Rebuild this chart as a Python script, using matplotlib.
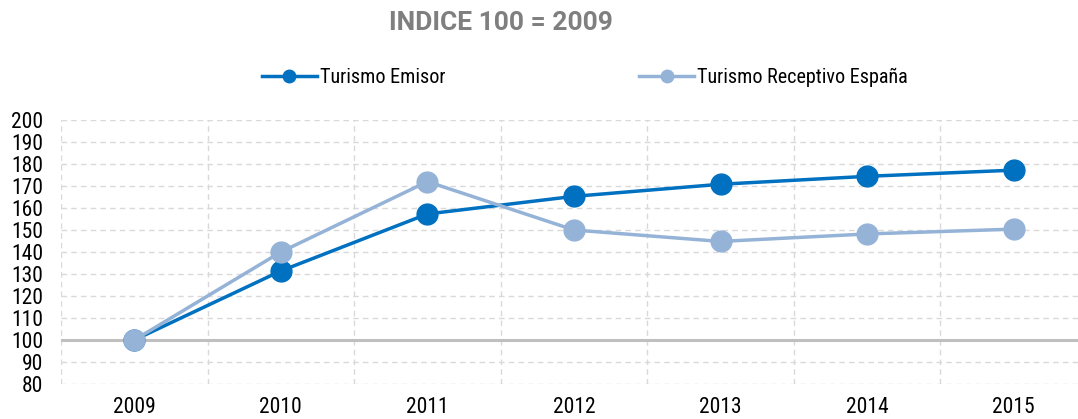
import matplotlib
matplotlib.use("Agg")
import matplotlib.pyplot as plt
from matplotlib import font_manager

years = ["2009", "2010", "2011", "2012", "2013", "2014", "2015"]
emisor = [100, 131.4, 157.3, 165.3, 170.8, 174.4, 177.2]
receptivo = [100, 140.0, 172.0, 150.0, 144.8, 148.2, 150.4]
yticks = list(range(80, 201, 10))

# prefer a narrow sans face when one is available
fonts = font_manager.fontManager.ttflist
names = {f.name for f in fonts}
family = "DejaVu Sans"
stretch = "normal"
for cand in ("Liberation Sans Narrow", "Roboto Condensed", "Open Sans Condensed"):
    if cand in names:
        family = cand
        break
else:
    if any(f.name == "DejaVu Sans" and "Condensed" in f.fname for f in fonts):
        stretch = "condensed"
plt.rcParams["font.family"] = [family, "DejaVu Sans"]
plt.rcParams["font.stretch"] = stretch

fig = plt.figure(figsize=(10.78, 4.19), dpi=100)
ax = fig.add_axes([61 / 1078, 1 - 384 / 419, (1087 - 61) / 1078, (384 - 120) / 419])

x = list(range(len(years)))
c_emi = "#0070C0"
c_rec = "#95B3D7"

ax.plot(x, emisor, color=c_emi, lw=2.5, marker="o", ms=15, zorder=4,
        label="Turismo Emisor")
ax.plot(x, receptivo, color=c_rec, lw=2.5, marker="o", ms=15, zorder=5,
        label="Turismo Receptivo España")

ax.set_xlim(-0.5, len(years) - 0.5)
ax.set_ylim(80, 200)
ax.set_yticks(yticks)
ax.set_xticks(x)
ax.set_xticklabels(years)

ax.set_xticks([i - 0.5 for i in range(len(years) + 1)], minor=True)
ax.grid(True, axis="y", which="major", color="#d9d9d9", ls=(0, (4, 3)), lw=1.0)
ax.grid(True, axis="x", which="minor", color="#d9d9d9", ls=(0, (4, 3)), lw=1.0)
ax.grid(False, axis="x", which="major")
ax.axhline(100, color="#bfbfbf", lw=2.2, zorder=2)
ax.set_axisbelow(True)

for s in ax.spines.values():
    s.set_visible(False)
ax.tick_params(axis="both", which="both", length=0, labelsize=15.5, colors="#000000")
ax.tick_params(axis="x", pad=9)
ax.tick_params(axis="y", pad=13)

fig.text(501 / 1078, 1 - 23 / 419, "INDICE 100 = 2009", ha="center", va="center",
         fontsize=19, fontweight="bold", color="#7f7f7f",
         family=["Roboto", "DejaVu Sans"], fontstretch="normal")

handles, labels = ax.get_legend_handles_labels()
leg = fig.legend(handles, labels, loc="center", bbox_to_anchor=(585 / 1078, 1 - 77 / 419),
                 ncol=2, frameon=False, fontsize=14.5, columnspacing=9.6,
                 handlelength=2.75, handletextpad=0.15, markerscale=0.6)

fig.savefig("out.png", dpi=100, facecolor="white")
